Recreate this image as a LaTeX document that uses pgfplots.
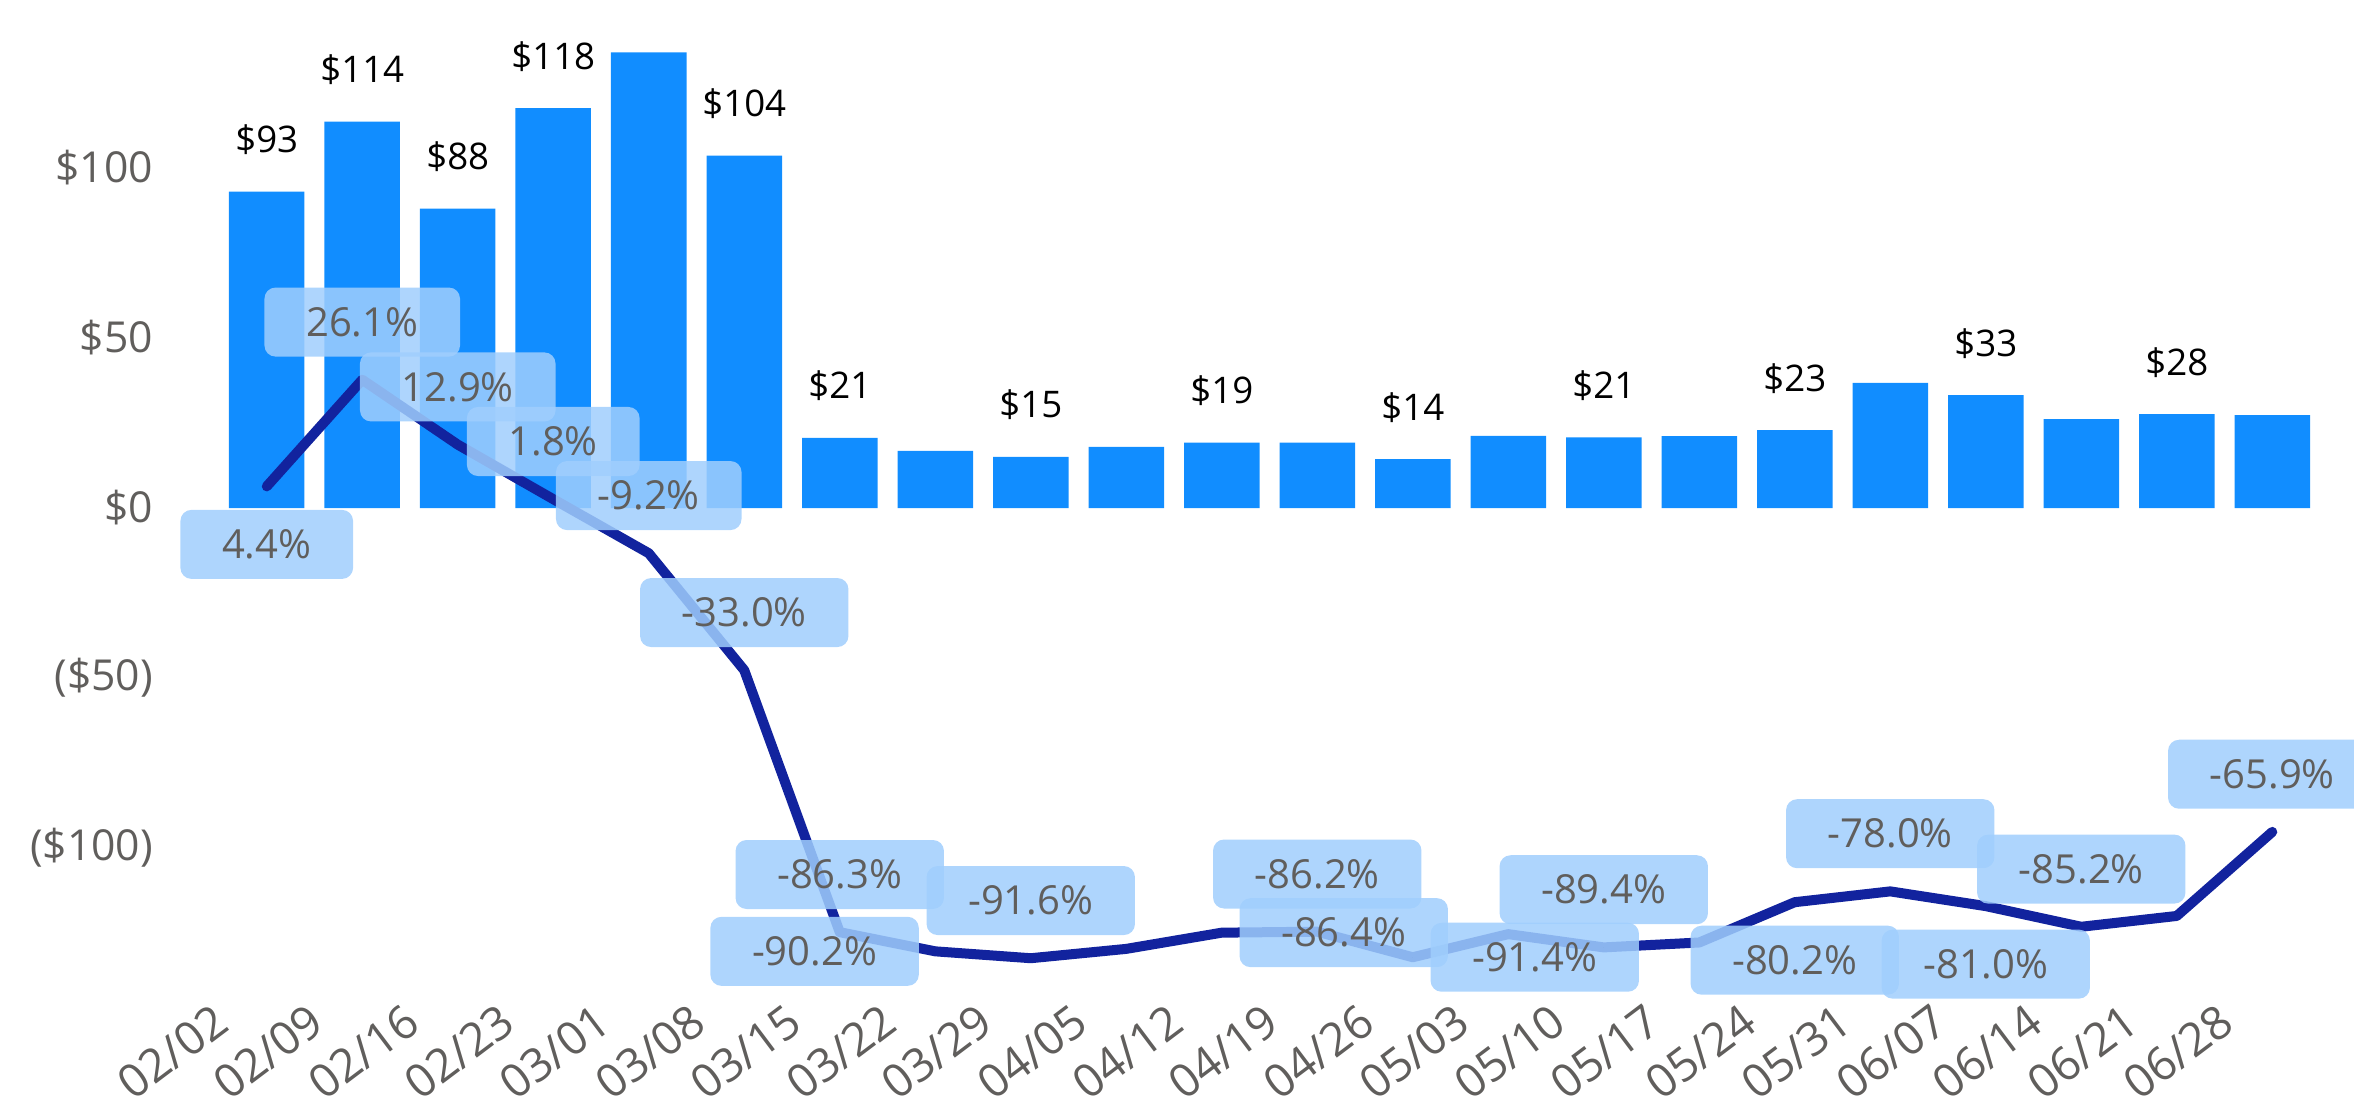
\documentclass[border=0pt]{standalone}
\usepackage{fontspec}
\setmainfont{Open Sans}
\usepackage{pgfplots}
\usepackage{pgfplotstable}
\pgfplotsset{compat=1.18}
\definecolor{barblue}{HTML}{118DFF}
\definecolor{lineblue}{HTML}{12239E}
\definecolor{lblbox}{RGB}{160,206,253}
\definecolor{tickgray}{HTML}{605E5C}

\pgfplotstableread{
x pct
0 4.4
1 26.1
2 12.9
3 1.8
4 -9.2
5 -33.0
6 -86.3
7 -90.2
8 -91.6
9 -89.7
10 -86.4
11 -86.2
12 -91.4
13 -86.7
14 -89.4
15 -88.4
16 -80.2
17 -78.0
18 -81.0
19 -85.2
20 -83.0
21 -65.9
}\pcttable

\pgfplotstableread{
x pct dx dy lab
0 4.4 0 -17.4 4.4\%
1 26.1 0 17.3 26.1\%
2 12.9 0 17.3 12.9\%
3 1.8 0 17.3 1.8\%
4 -9.2 0 17.3 -9.2\%
5 -33.0 0 17.3 -33.0\%
6 -86.3 0 17.3 -86.3\%
7 -90.2 -36.2 0 -90.2\%
8 -91.6 0 17.3 -91.6\%
10 -86.4 36.6 0 -86.4\%
11 -86.2 0 17.3 -86.2\%
12 -91.4 36.6 0 -91.4\%
14 -89.4 0 17.3 -89.4\%
16 -80.2 0 -17.4 -80.2\%
17 -78.0 0 17.3 -78.0\%
18 -81.0 0 -17.4 -81.0\%
19 -85.2 0 17.3 -85.2\%
21 -65.9 0 17.3 -65.9\%
}\lbltable

\begin{document}
\begin{tikzpicture}
\begin{axis}[
  at={(0,0)}, anchor=south west,
  width=630.3pt, height=292.8pt, scale only axis,
  xmin=-0.5, xmax=21.5, ymin=-143.2, ymax=143.8,
  axis line style={draw=none}, tick style={draw=none},
  xtick={0,...,21},
  xticklabels={02/02,02/09,02/16,02/23,03/01,03/08,03/15,03/22,03/29,04/05,04/12,04/19,04/26,05/03,05/10,05/17,05/24,05/31,06/07,06/14,06/21,06/28},
  xticklabel style={rotate=37, anchor=north east, xshift=-11pt, yshift=12pt, font=\fontsize{13.8}{16}\selectfont, text=tickgray},
  ytick={-100,-50,0,50,100},
  yticklabels={(\$100),(\$50),\$0,\$50,\$100},
  yticklabel style={font=\fontsize{12.8}{15}\selectfont, text=tickgray, xshift=-16.3pt},
  clip=false,
]
\addplot[ybar, bar width=22.65pt, fill=barblue, draw=none,
  point meta=explicit symbolic,
  nodes near coords,
  every node near coord/.append style={anchor=base, yshift=11.7pt, font=\fontsize{11}{13}\selectfont, text=black}]
coordinates {
(0,93) [\$93]
(1,113.6) [\$114]
(2,88) [\$88]
(3,117.6) [\$118]
(4,134) []
(5,103.6) [\$104]
(6,20.6) [\$21]
(7,16.8) []
(8,15.0) [\$15]
(9,18.0) []
(10,19.2) [\$19]
(11,19.2) []
(12,14.4) [\$14]
(13,21.2) []
(14,20.8) [\$21]
(15,21.1) []
(16,22.9) [\$23]
(17,36.8) []
(18,33.2) [\$33]
(19,26.1) []
(20,27.6) [\$28]
(21,27.3) []
};
\end{axis}
\begin{axis}[
  at={(0,0)}, anchor=south west,
  width=630.3pt, height=292.8pt, scale only axis,
  xmin=-0.5, xmax=21.5, ymin=-99.08, ymax=99.49,
  hide axis, clip=false,
]
\addplot[lineblue, line width=3pt, line join=round, line cap=round] table[x=x, y=pct]{\pcttable};
\addplot[only marks, mark=*, mark size=0pt,
  mark options={draw=none, fill=none},
  scatter/use mapped color={draw=none, fill=none},
  point meta=explicit symbolic,
  visualization depends on={\thisrow{dx}\as\dx},
  visualization depends on={\thisrow{dy}\as\dy},
  nodes near coords,
  every node near coord/.append style={anchor=center, xshift=\dx pt, yshift=\dy pt,
    fill=lblbox, fill opacity=0.85, text opacity=1, rounded corners=3.3pt,
    inner xsep=12.5pt, inner ysep=0pt, minimum height=20.7pt,
    text=tickgray, font=\fontsize{12}{14}\selectfont}]
table[x=x, y=pct, meta=lab]{\lbltable};
\end{axis}
\pgfresetboundingbox
\useasboundingbox (-65.7pt,-32.1pt) rectangle (640.5pt,298.5pt);
\end{tikzpicture}
\end{document}
